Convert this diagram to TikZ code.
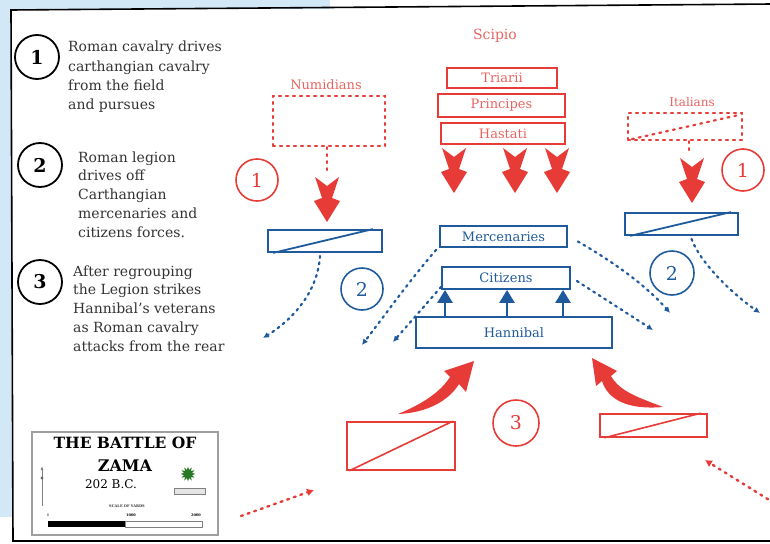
\documentclass[tikz,border=0pt]{standalone}
\usepackage{fontspec}
\setmainfont{DejaVu Serif}
\usetikzlibrary{arrows.meta,shapes.geometric}
\definecolor{rd}{HTML}{E63B36}
\definecolor{rdt}{HTML}{E86462}
\definecolor{bl}{HTML}{1F5A9C}
\definecolor{sky}{HTML}{D2E8F6}
\definecolor{txt}{HTML}{333333}
\begin{document}
\begin{tikzpicture}[x=1pt,y=-1pt,
  lab/.style={font=\fontsize{13}{15}\selectfont},
  bbox/.style={draw=bl,line width=1.8pt,inner sep=0pt,text=bl,lab},
  rbox/.style={draw=rd,line width=1.6pt,inner sep=0pt,text=rdt,lab},
  rdotbox/.style={draw=rd,line width=2.2pt,dash pattern=on 2pt off 5pt,line cap=round,inner sep=0pt},
  numc/.style={circle,line width=1.6pt,inner sep=0pt,minimum size=42pt,font=\fontsize{19}{19}\selectfont},
  legc/.style={circle,draw=black,line width=1.8pt,inner sep=0pt,minimum size=44pt,font=\bfseries\fontsize{19}{19}\selectfont},
  leg/.style={anchor=base west,inner sep=0pt,text=txt,font=\fontsize{14}{16}\selectfont},
  bdot/.style={draw=bl,line width=2.2pt,dash pattern=on 2pt off 4.5pt,line cap=round,-{Latex[length=6pt,width=6pt]}},
  rdot/.style={draw=rd,line width=2.4pt,dash pattern=on 2pt off 5pt,line cap=round,-{Latex[length=7pt,width=8pt]}},
  bup/.style={draw=bl,line width=2.8pt,-{Triangle[width=15pt,length=13pt]}},
  pics/fat/.style={code={\fill[rd] (-12,0) -- (0,9) -- (12,0) -- (5,21) -- (13,24) -- (0,45) -- (-13,24) -- (-5,21) -- cycle;}}
]
\useasboundingbox (0,0) rectangle (770,543);
% background
\fill[sky] (0,0) rectangle (12,517);
\fill[sky] (0,0) rectangle (330,9);
\draw[black,line width=1.6pt] (772,4) -- (11,10) -- (13,541) -- (772,541);

% legend
\node[legc] (c1) at (37,57) {1};
\node[legc] (c2) at (40,165) {2};
\node[legc] (c3) at (40,282) {3};
\foreach \t [count=\i] in {Roman cavalry drives, carthangian cavalry, from the field, and pursues}
  \node[leg] (la\i) at (68,{52+19.2*(\i-1)}) {\t};
\foreach \t [count=\i] in {Roman legion, drives off, Carthangian, mercenaries and, citizens forces.}
  \node[leg] (lb\i) at (78,{162+18.8*(\i-1)}) {\t};
\foreach \t [count=\i] in {After regrouping, the Legion strikes, Hannibal's veterans, as Roman cavalry, attacks from the rear}
  \node[leg] (lc\i) at (73,{276+18.8*(\i-1)}) {\t};

% title box
\draw[gray!75,line width=1.3pt] (32,432) rectangle (218,535);
\node[font=\bfseries\fontsize{15.5}{16}\selectfont] (tt1) at (125,443) {THE BATTLE OF};
\node[font=\bfseries\fontsize{16}{16}\selectfont] (tt2) at (125,466) {ZAMA};
\node[font=\fontsize{12}{12}\selectfont] (tt3) at (111,484) {202 B.C.};
\node[font=\bfseries\fontsize{3.6}{4}\selectfont,text=txt] (sc) at (127,506) {SCALE OF YARDS};
\node[font=\fontsize{3.5}{4}\selectfont] (s0) at (48,515) {0};
\node[font=\bfseries\fontsize{3.5}{4}\selectfont] (s1) at (131,515) {1000};
\node[font=\bfseries\fontsize{3.5}{4}\selectfont] (s2) at (196,515) {2000};
\fill[black] (48,521) rectangle (125,527);
\draw[gray,line width=0.8pt] (125,521) rectangle (202,527);
\draw[gray,line width=0.8pt,-{Latex[length=4pt,width=3pt]}] (42,506) -- (42,466);
\fill[gray!80!black] (42,478) circle (1.6pt);
\node[star,star points=12,star point ratio=1.8,fill=black!55!green!70!gray,inner sep=0pt,minimum size=15pt] (emb) at (188,474) {};
\draw[gray,line width=0.8pt,fill=gray!20] (174,488) rectangle (205,494);

% Scipio's army
\node[text=rdt,font=\fontsize{14}{15}\selectfont] (scipio) at (495,36) {Scipio};
\node[rbox,minimum width=110pt,minimum height=20pt] (tri) at (502,78) {Triarii};
\node[rbox,minimum width=127pt,minimum height=23pt] (pri) at (501.5,105.5) {Principes};
\node[rbox,minimum width=124pt,minimum height=21pt] (has) at (503,133.5) {Hastati};
\pic at (454,148) {fat};
\pic at (515,148) {fat};
\pic at (557,148) {fat};

% Numidians
\node[text=rdt,lab] (numl) at (326,85) {Numidians};
\node[rdotbox,minimum width=112pt,minimum height=50pt] (num) at (329,121) {};
\coordinate (numend) at (327,170);
\draw[draw=rd,line width=2.2pt,dash pattern=on 2pt off 5pt,line cap=round] ([xshift=-2pt]num.south) -- (numend);
\pic at (327,177) {fat};
\node[numc,draw=rd,text=rd] (r1l) at (257,180) {1};

% Italians
\node[text=rdt,font=\fontsize{12}{14}\selectfont] (itl) at (692,102) {Italians};
\node[rdotbox,minimum width=114pt,minimum height=27pt] (ita) at (685,126.5) {};
\draw[rdotbox] ([xshift=5pt,yshift=2pt]ita.south west) -- ([xshift=-4pt,yshift=-3pt]ita.north east);
\coordinate (itend) at (689,154);
\draw[draw=rd,line width=2.2pt,dash pattern=on 2pt off 5pt,line cap=round] ([xshift=4pt]ita.south) -- (itend);
\pic at (692,158) {fat};
\node[numc,draw=rd,text=rd] (r1r) at (743,170) {1};

% Roman cavalry boxes (blue)
\node[bbox,minimum width=114pt,minimum height=22pt] (lb) at (325,241) {};
\draw[bl,line width=1.8pt] ([xshift=6pt]lb.south west) -- ([xshift=-10pt]lb.north east);
\node[bbox,minimum width=113pt,minimum height=22pt] (rb) at (681.5,224) {};
\draw[bl,line width=1.8pt] ([xshift=6pt]rb.south west) -- ([xshift=-8pt]rb.north east);

% Carthaginian centre
\node[bbox,minimum width=127pt,minimum height=21pt] (merc) at (503.5,236.5) {Mercenaries};
\node[bbox,minimum width=128pt,minimum height=22pt] (cit) at (506,278) {Citizens};
\node[bbox,minimum width=196pt,minimum height=31pt] (han) at (514,332.5) {Hannibal};
\draw[bup] ([xshift=-69pt]han.north) -- ([xshift=-61pt]cit.south);
\draw[bup] ([xshift=-7pt]han.north) -- ([xshift=1pt]cit.south);
\draw[bup] ([xshift=49pt]han.north) -- ([xshift=57pt]cit.south);

\node[numc,draw=bl,text=bl] (b2l) at (362,289) {2};
\node[numc,draw=bl,text=bl,minimum size=44pt] (b2r) at (672,273) {2};

% blue dotted movements
\coordinate (e1) at (263,338);
\coordinate (e2) at (362,345);
\coordinate (e3) at (393,342);
\coordinate (e4) at (670,313);
\coordinate (e5) at (653,330);
\coordinate (e6) at (760,313);
\draw[bdot] ([xshift=-5pt,yshift=-3pt]lb.south) .. controls (318,290) and (295,318) .. (e1);
\draw[bdot] ([xshift=-3pt,yshift=-2pt]merc.south west) .. controls (410,280) and (385,315) .. (e2);
\draw[bdot] ([yshift=3pt]cit.south west) -- (e3);
\draw[bdot] ([xshift=10pt,yshift=-5pt]merc.east) .. controls (610,260) and (645,284) .. (e4);
\draw[bdot] ([xshift=6pt,yshift=-3pt]cit.east) -- (e5);
\draw[bdot] ([xshift=10pt,yshift=-3pt]rb.south) .. controls (700,262) and (730,292) .. (e6);

% final attack
\node[rbox,minimum width=108pt,minimum height=48pt] (rl) at (401,446) {};
\draw[rd,line width=1.6pt] ([xshift=3pt]rl.south west) -- ([xshift=-3pt]rl.north east);
\node[rbox,minimum width=107pt,minimum height=23pt] (rr) at (653.5,425.5) {};
\draw[rd,line width=1.6pt] ([xshift=5pt]rr.south west) -- ([xshift=-7pt]rr.north east);
\node[numc,draw=rd,text=rd,minimum size=46pt] (r3) at (516,423) {3};
\fill[rd] (398,414) .. controls (420,405) and (440,393) .. (450,377) -- (444,371) -- (474,361) -- (466,392) -- (459,384) .. controls (448,402) and (425,413) .. (398,414) -- cycle;
\fill[rd] (663,407) .. controls (640,398) and (620,392) .. (611,376) -- (617,371) -- (592,358) -- (596,386) -- (602,381) .. controls (608,400) and (628,410) .. (663,407) -- cycle;
\coordinate (f1s) at (241,516);
\coordinate (f1e) at (314,490);
\coordinate (f2s) at (774,503);
\coordinate (f2e) at (705,460);
\draw[rdot] (f1s) -- (f1e);
\draw[rdot] (f2s) -- (f2e);
\end{tikzpicture}
\end{document}
